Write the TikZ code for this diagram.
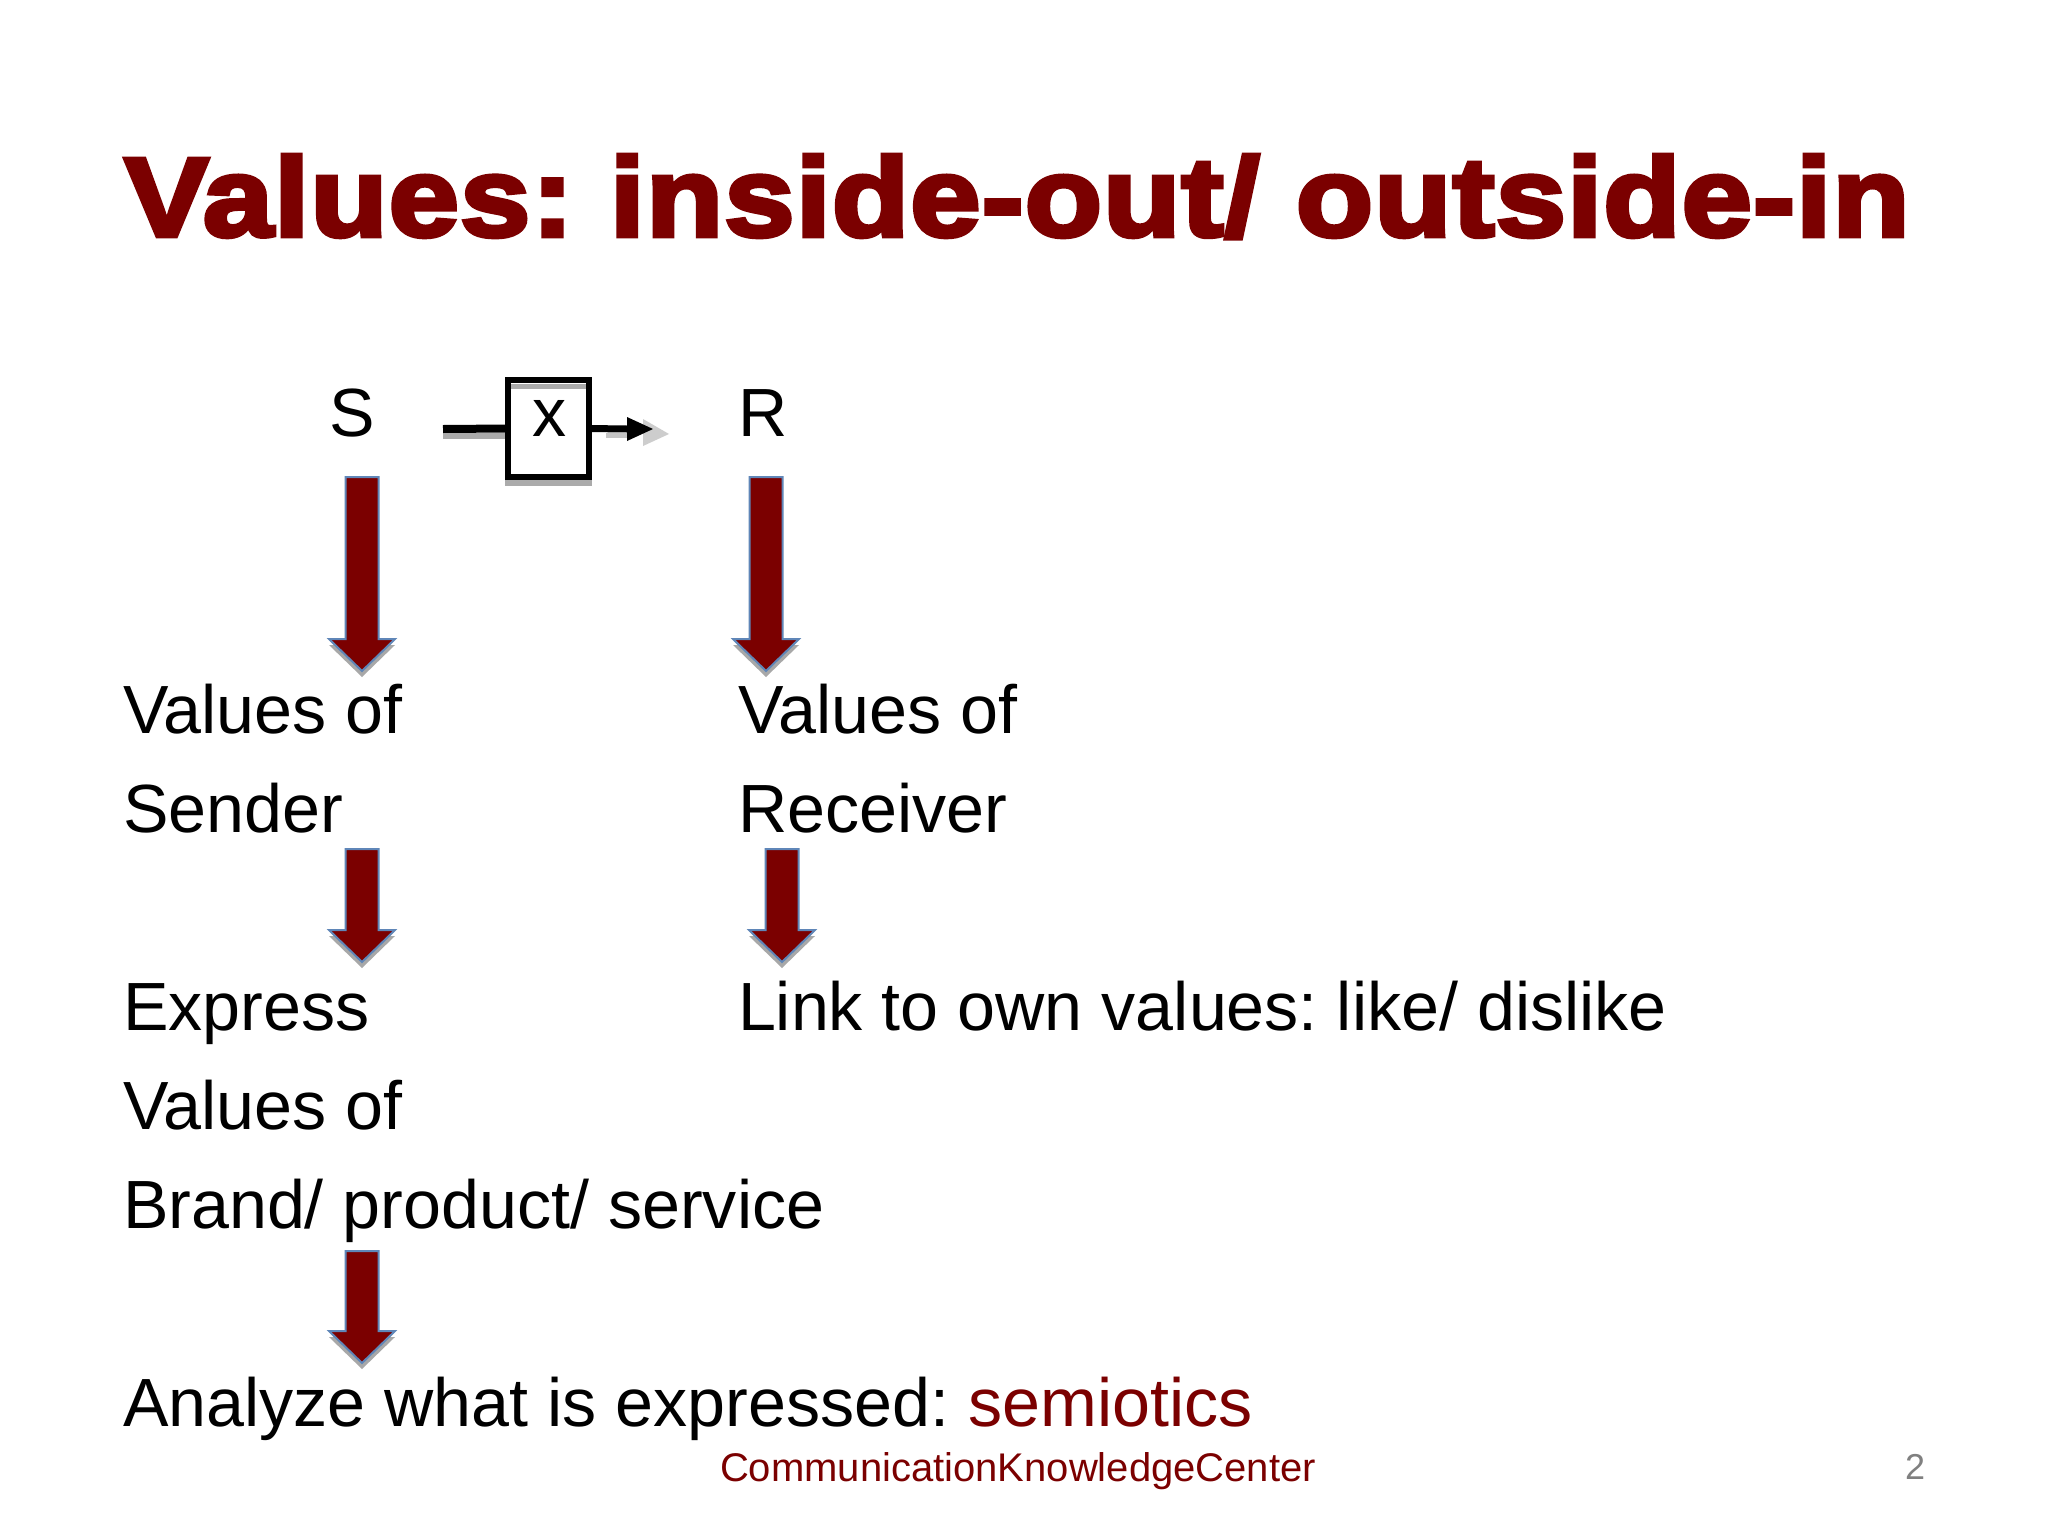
\documentclass[tikz,border=0pt]{standalone}
\usepackage{fontspec}
\setmainfont{Liberation Sans}
\newfontfamily\titlefont[FakeBold=4,FakeStretch=1.13,LetterSpace=0.9]{Liberation Sans Bold}
\usetikzlibrary{arrows.meta}
\definecolor{deepred}{HTML}{7B0000}
\definecolor{arrowedge}{HTML}{5F86B8}
\definecolor{arrowshadow}{HTML}{A8A8A8}
\definecolor{lineshadow}{HTML}{ABABAB}
\definecolor{tipshadow}{HTML}{CDCDCD}
\newcommand{\blockdown}[4]{% centre x, top y, head y, tip y
  \fill[arrowshadow] ({#1-33},{-(#3+6)}) -- ({#1},{-(#4+6)}) -- ({#1+33},{-(#3+6)}) -- cycle;
  \draw[blockarrow] ({#1-16.5},{-#2}) -- ({#1+16.5},{-#2}) -- ({#1+16.5},{-#3}) -- ({#1+33},{-#3})
    -- ({#1},{-#4}) -- ({#1-33},{-#3}) -- ({#1-16.5},{-#3}) -- cycle;
}
\tikzset{
  x=0.5pt,y=0.5pt,
  body/.style={anchor=base west,inner sep=0pt,outer sep=0pt,font=\fontsize{34.1}{34.1}\selectfont,text=black},
  blockarrow/.style={fill=deepred,draw=arrowedge,line width=1pt,line join=miter},
  wire/.style={draw=black,line width=4pt},
  wireshadow/.style={draw=lineshadow,line width=3pt},
}
\begin{document}
\frenchspacing
\begin{tikzpicture}
\useasboundingbox[fill=white] (0,0) rectangle (2048,-1536);
\node[anchor=base west,inner sep=0pt,text=deepred,font=\titlefont\fontsize{56}{56}\selectfont] (title) at (124,-236) {Values: inside-out/ outside-in};
\node[body] (s) at (329,-436) {S};
\node[body] (r) at (738,-436) {R};
% shadows of the wires and the box
\draw[wireshadow] (443,-435.5) -- (505,-435.5);
\fill[lineshadow] (505,-480) rectangle (592,-486);
\draw[draw=lineshadow!70!white,line width=2.5pt] (606,-435) -- (627,-435);
\fill[tipshadow] (643,-419) -- (669,-434) -- (643,-446) -- cycle;
\node[draw=black,line width=3.3pt,fill=white,minimum width=40.5pt,minimum height=48.5pt,inner sep=0pt,outer sep=0pt] (box) at (548.5,-428.5) {};
\fill[lineshadow] (511,-384) rectangle (586,-389);
\node[inner sep=0pt,anchor=base,font=\fontsize{34.1}{34.1}\selectfont] (xlabel) at (549.5,-436) {x};
\coordinate (wirein) at (443,-429);
\coordinate (wireout) at (627,-429);
\draw[wire] (wirein) -- (box.west);
\draw[wire,line width=3.5pt] (box.east) -- (wireout);
\fill[black] (627,-417) -- (653,-429) -- (627,-441) -- cycle;
\blockdown{362}{477}{639}{671}
\blockdown{766}{477}{639}{671}
\node[body] (v1) at (123,-733) {Values of};
\node[body] (v2) at (738,-733) {Values of};
\node[body] (sender) at (123,-832) {Sender};
\node[body] (receiver) at (738,-832) {Receiver};
\blockdown{362}{849}{930}{962}
\blockdown{782}{849}{930}{962}
\node[body] (express) at (123,-1030) {Express};
\node[body] (link) at (738,-1030) {Link to own values: like/ dislike};
\node[body] (v3) at (123,-1129) {Values of};
\node[body] (brand) at (123,-1228) {Brand/ product/ service};
\blockdown{362}{1251}{1331}{1363}
\node[body] (analyze) at (123,-1426) {Analyze what is expressed: \textcolor{deepred}{semiotics}};
\node[anchor=base,inner sep=0pt,text=deepred,font=\fontsize{20}{20}\selectfont] (footer) at (1018,-1481) {CommunicationKnowledgeCenter};
\node[anchor=base,inner sep=0pt,text=gray,font=\fontsize{18}{18}\selectfont] (page) at (1915,-1479) {2};
\end{tikzpicture}
\end{document}
